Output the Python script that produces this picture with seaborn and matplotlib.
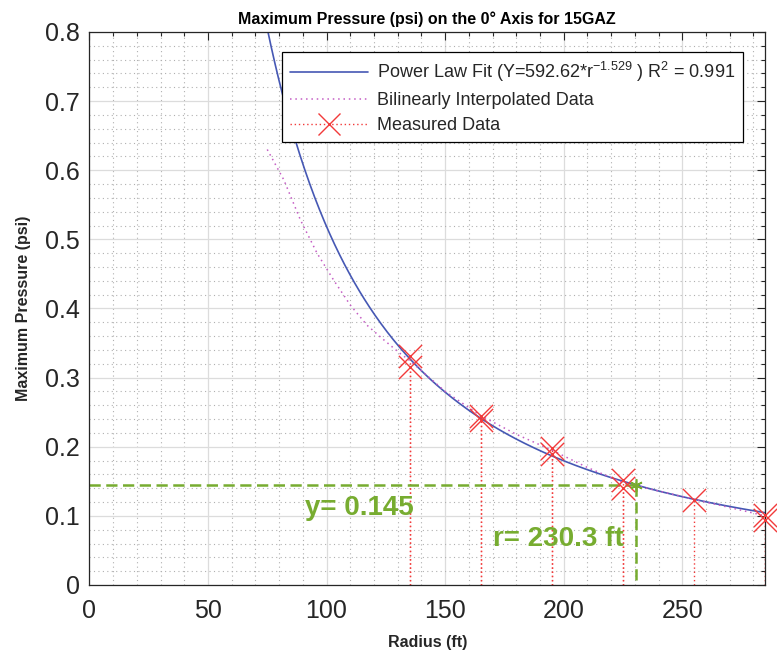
import numpy as np
import pandas as pd
import matplotlib
matplotlib.use("Agg")
import matplotlib.pyplot as plt
from matplotlib.lines import Line2D
from matplotlib.ticker import MultipleLocator
import seaborn as sns

# ---- data ----
measured_r = [135, 135, 165, 165, 195, 195, 225, 225, 255, 285, 285]
measured_p = [0.331, 0.316, 0.244, 0.239, 0.198, 0.189, 0.152, 0.140, 0.123, 0.101, 0.094]

interp_r = [75, 82, 89, 96, 103, 110, 117, 124, 131, 135, 150, 165, 180, 195, 210, 225, 240, 255, 270, 285]
interp_p = [0.630, 0.586, 0.528, 0.480, 0.441, 0.405, 0.376, 0.355, 0.335, 0.325, 0.280, 0.245,
            0.218, 0.195, 0.170, 0.148, 0.136, 0.124, 0.112, 0.100]

fit_coef = 592.62      # from legend: Y = 592.62 * r^-1.529
fit_exp = -1.529
fit_r_range = [75, 285]

target_r = 230.3
target_p = 0.145

title = "Maximum Pressure (psi) on the 0° Axis for 15GAZ"
xlabel = "Radius (ft)"
ylabel = "Maximum Pressure (psi)"
fit_label = r"Power Law Fit (Y=592.62*r$^{-1.529}$ ) R$^{2}$ = 0.991"
interp_label = "Bilinearly Interpolated Data"
meas_label = "Measured Data"

# ---- style ----
sns.set_style("white")
plt.rcParams["font.family"] = ["Liberation Sans", "DejaVu Sans"]
plt.rcParams["mathtext.default"] = "regular"

C_FIT = "#4658b4"
C_INT = "#c45cc4"
C_RED = "#f23a3a"
C_GREEN = "#77ac30"
C_TXT = "#262626"

fig = plt.figure(figsize=(7.77, 6.5), dpi=100)
ax = fig.add_axes([0.115, 0.1, 0.870, 0.8508])

fit_r = np.linspace(fit_r_range[0], fit_r_range[1], 400)
fit_df = pd.DataFrame({"r": fit_r, "p": fit_coef * fit_r ** fit_exp})
int_df = pd.DataFrame({"r": interp_r, "p": interp_p})
meas_df = pd.DataFrame({"r": measured_r, "p": measured_p})

ax.set_axisbelow(True)

sns.lineplot(data=fit_df, x="r", y="p", ax=ax, color=C_FIT, linewidth=1.2, sort=False)
sns.lineplot(data=int_df, x="r", y="p", ax=ax, color=C_INT, linewidth=1.1,
             linestyle=(0, (1, 2.5)), sort=False)

# stems from measured points
ax.vlines(meas_df["r"], 0, meas_df["p"], colors=C_RED, linestyles=(0, (1, 2)), linewidth=1.0)
sns.scatterplot(data=meas_df, x="r", y="p", ax=ax, marker="x", s=280, color=C_RED,
                linewidth=1.0, zorder=5, clip_on=False)

# target lines
ax.plot([0, target_r], [target_p, target_p], color=C_GREEN, linewidth=1.8,
        linestyle=(0, (4.5, 2.2)))
ax.plot([target_r, target_r], [target_p, 0], color=C_GREEN, linewidth=1.8,
        linestyle=(0, (4.5, 2.2)))
ax.plot([target_r], [target_p], marker=(6, 2, 0), markersize=9, color=C_GREEN,
        markeredgewidth=1.2, zorder=6)
ax.text(91, 0.101, f"y= {target_p}", color=C_GREEN, fontsize=20, fontweight="bold",
        va="baseline", ha="left")
ax.text(170, 0.056, f"r= {target_r} ft", color=C_GREEN, fontsize=20, fontweight="bold",
        va="baseline", ha="left")

# axes
ax.set_xlim(0, 285)
ax.set_ylim(0, 0.8)
ax.xaxis.set_major_locator(MultipleLocator(50))
ax.xaxis.set_minor_locator(MultipleLocator(10))
ax.yaxis.set_major_locator(MultipleLocator(0.1))
ax.yaxis.set_minor_locator(MultipleLocator(0.02))
ax.set_yticks(np.arange(0, 0.81, 0.1))
ax.set_yticklabels(["0", "0.1", "0.2", "0.3", "0.4", "0.5", "0.6", "0.7", "0.8"])
ax.grid(which="major", color="#dcdcdc", linewidth=0.9, linestyle="-")
ax.grid(which="minor", color="#b0b0b0", linewidth=0.8, linestyle=(0, (1, 3)))
ax.tick_params(which="both", direction="in", top=True, right=True, colors=C_TXT,
               labelsize=18, width=0.8)
ax.tick_params(axis="x", which="major", length=6, pad=10)
ax.tick_params(axis="y", which="major", length=6, pad=7)
ax.tick_params(which="minor", length=3)
for s in ax.spines.values():
    s.set_color(C_TXT)
    s.set_linewidth(0.9)

ax.set_title(title, fontsize=11.5, fontweight="bold", color="black", pad=6)
ax.set_xlabel(xlabel, fontsize=11.5, fontweight="bold", color=C_TXT, labelpad=9)
ax.set_ylabel(ylabel, fontsize=11.5, fontweight="bold", color=C_TXT, labelpad=10)

handles = [
    Line2D([], [], color=C_FIT, linewidth=1.2),
    Line2D([], [], color=C_INT, linewidth=1.1, linestyle=(0, (1, 2.5))),
    Line2D([], [], color=C_RED, linewidth=1.0, linestyle=(0, (1, 2)), marker="x",
           markersize=16, markeredgewidth=1.0),
]
leg = ax.legend(handles, [fit_label, interp_label, meas_label], loc="upper right",
                bbox_to_anchor=(0.967, 0.964), fontsize=13, frameon=True, fancybox=False,
                framealpha=1, edgecolor="black", handlelength=4.3, handletextpad=0.5,
                borderpad=0.45, labelspacing=0.45, borderaxespad=0)
leg.get_frame().set_linewidth(0.9)
for t in leg.get_texts():
    t.set_color(C_TXT)

fig.savefig("out.png", dpi=100)
